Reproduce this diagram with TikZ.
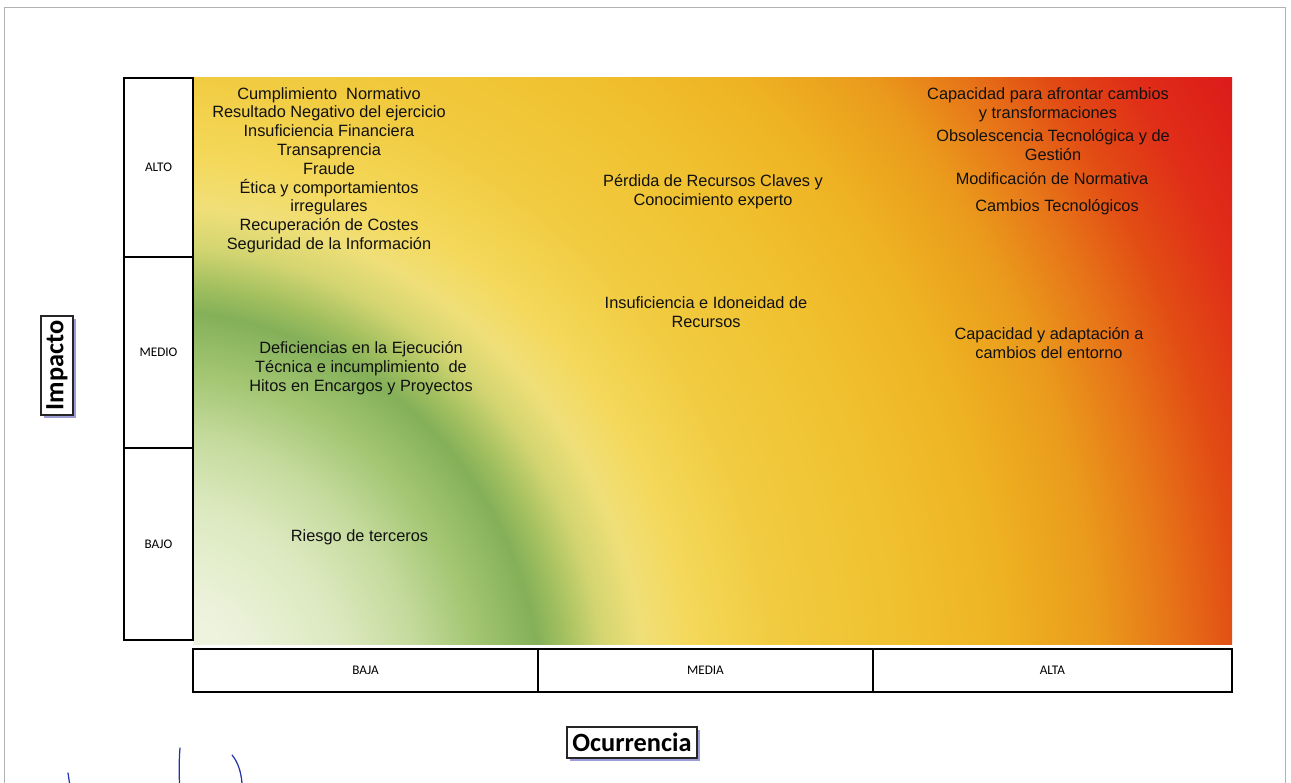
\documentclass[tikz,border=0pt]{standalone}
\usepackage{fontspec}
\setmainfont{Liberation Sans}
\newfontfamily\calibrifont{Carlito}
\usetikzlibrary{positioning, shadows}

\definecolor{mapWhite}{HTML}{F3F6E9}
\definecolor{mapMint}{HTML}{ECF2DA}
\definecolor{mapLight}{HTML}{DCE9BF}
\definecolor{mapSage}{HTML}{C4DA9C}
\definecolor{mapGrass}{HTML}{A3C672}
\definecolor{mapGreen}{HTML}{84B059}
\definecolor{mapOlive}{HTML}{9FBE5E}
\definecolor{mapLime}{HTML}{D3D571}
\definecolor{mapPale}{HTML}{F0DF78}
\definecolor{mapLemon}{HTML}{F4D85A}
\definecolor{mapYellow}{HTML}{F1CB40}
\definecolor{mapGold}{HTML}{F0C02E}
\definecolor{mapAmber}{HTML}{EEB222}
\definecolor{mapOrange}{HTML}{EA9A1C}
\definecolor{mapTangerine}{HTML}{E77618}
\definecolor{mapVermilion}{HTML}{E24C14}
\definecolor{mapScarlet}{HTML}{E02E18}
\definecolor{mapRed}{HTML}{DC1A1A}
\definecolor{riskText}{HTML}{111111}
\definecolor{penBlue}{HTML}{2434A8}

\pgfdeclareradialshading{riskmap}{\pgfpoint{0bp}{0bp}}{%
  color(0bp)=(mapWhite); color(2.2bp)=(mapMint); color(4bp)=(mapLight);
  color(5.4bp)=(mapSage); color(6.6bp)=(mapGrass); color(7.8bp)=(mapGreen);
  color(8.3bp)=(mapOlive); color(9.1bp)=(mapLime); color(9.9bp)=(mapPale);
  color(10.9bp)=(mapLemon); color(12.6bp)=(mapYellow); color(15.2bp)=(mapGold);
  color(17.2bp)=(mapAmber); color(19bp)=(mapOrange); color(20.4bp)=(mapTangerine);
  color(21.8bp)=(mapVermilion); color(23.2bp)=(mapScarlet); color(25bp)=(mapRed);
  color(50bp)=(mapRed)}

\tikzstyle{levelbox} = [rectangle, draw=black, line width=1pt, fill=white, inner sep=0pt, outer sep=0pt, font=\calibrifont\fontsize{7.5}{9}\selectfont]
\tikzstyle{rowlevel} = [levelbox, minimum width=1.38cm]
\tikzstyle{collevel} = [levelbox, minimum height=0.86cm]
\tikzstyle{axisbox} = [rectangle, draw=black!85, line width=0.6pt, fill=white, inner sep=0pt, font=\calibrifont\bfseries\fontsize{15}{18}\selectfont, drop shadow={shadow xshift=1.5pt, shadow yshift=-1.5pt, fill=blue!40!gray, opacity=0.55}]
\tikzstyle{risktext} = [align=center, inner sep=0pt, text=riskText, font=\fontsize{9.3}{10.7}\selectfont]
\tikzstyle{penstroke} = [draw=penBlue, line width=0.7pt, line cap=round]

\begin{document}
\begin{tikzpicture}[x=0.02cm, y=-0.02cm]
	\useasboundingbox (0,0) rectangle (1291,783);
	\draw [gray!60, line width=0.5pt] (4,7) rectangle (1285,800);
	% colour field
	\begin{scope}
		\clip (193,78) rectangle (1232,644);
		\shade [shading=riskmap] (-1100,-550) rectangle (1400,1950);
	\end{scope}
	% impacto levels
	\node (alto) [rowlevel, minimum height=3.58cm] at (158.5,167.5) {ALTO};
	\node (medio) [rowlevel, minimum height=3.82cm, below=0pt of alto] {MEDIO};
	\node (bajo) [rowlevel, minimum height=3.84cm, below=0pt of medio] {BAJO};
	% ocurrencia levels
	\node (baja) [collevel, minimum width=6.9cm] at (365.5,670.5) {BAJA};
	\node (media) [collevel, minimum width=6.7cm, right=0pt of baja] {MEDIA};
	\node (alta) [collevel, minimum width=7.18cm, right=0pt of media] {ALTA};
	\node (impacto) [axisbox, rotate=90, minimum width=1.98cm, minimum height=0.64cm] at (57,365.5) {Impacto};
	\node (ocurrencia) [axisbox, minimum width=2.6cm, minimum height=0.62cm] at (632,742.5) {Ocurrencia};
	% risks
	\node (cumplimiento) [risktext] at (329,170) {Cumplimiento~ Normativo\\Resultado Negativo del ejercicio\\Insuficiencia Financiera\\Transaprencia\\Fraude\\Ética y comportamientos\\irregulares\\Recuperación de Costes\\Seguridad de la Información};
	\node (perdida) [risktext] at (713,192) {Pérdida de Recursos Claves y\\Conocimiento experto};
	\node (capacidad) [risktext] at (1048,105) {Capacidad para afrontar cambios\\y transformaciones};
	\node (obsolescencia) [risktext] at (1053,145) {Obsolescencia Tecnológica y de\\Gestión};
	\node (modificacion) [risktext] at (1052,179) {Modificación de Normativa};
	\node (cambios) [risktext] at (1057,207) {Cambios Tecnológicos};
	\node (deficiencias) [risktext] at (361,368) {Deficiencias en la Ejecución\\Técnica e incumplimiento~ de\\Hitos en Encargos y Proyectos};
	\node (insuficiencia) [risktext] at (706,312) {Insuficiencia e Idoneidad de\\Recursos};
	\node (adaptacion) [risktext] at (1049,343) {Capacidad y adaptación a\\cambios del entorno};
	\node (terceros) [risktext] at (359.5,537) {Riesgo de terceros};
	% pen marks
	\draw [penstroke] (68,773) -- (69.5,783);
	\draw [penstroke] (180,748) .. controls (179,760) and (179,772) .. (179.5,783);
	\draw [penstroke] (232,755) .. controls (238,762) and (241,772) .. (242,783);
\end{tikzpicture}
\end{document}
